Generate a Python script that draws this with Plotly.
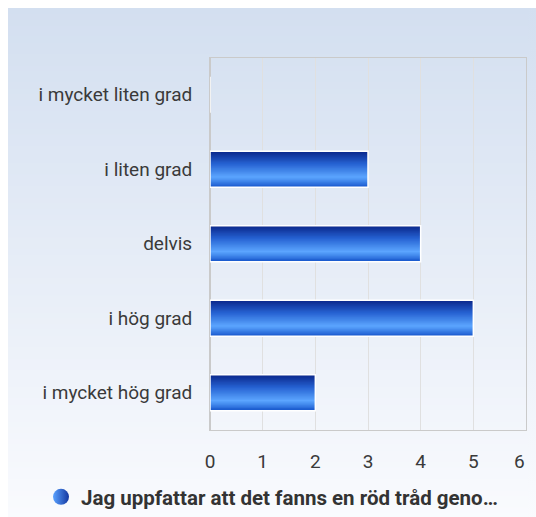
import plotly.graph_objects as go

categories = ["i mycket liten grad", "i liten grad", "delvis", "i hög grad", "i mycket hög grad"]
values = [0, 3, 4, 5, 2]
series_name = "Jag uppfattar att det fanns en röd tråd geno…"
x_ticks = [0, 1, 2, 3, 4, 5, 6]

W, H = 536, 517
OFF = 8  # page offset of the figure (body margin)
FONT = "Roboto, Liberation Sans, Arial, sans-serif"

def px(x):
    return (x - OFF) / W

def py(y):
    return 1 - (y - OFF) / H

def lerp(c1, c2, t):
    return tuple(round(a + (b - a) * t) for a, b in zip(c1, c2))

def grad(stops, t):
    for (t0, c0), (t1, c1) in zip(stops, stops[1:]):
        if t <= t1:
            return lerp(c0, c1, (t - t0) / (t1 - t0) if t1 > t0 else 0)
    return stops[-1][1]

bar_stops = [
    (0.0, (10, 38, 138)),
    (0.35, (38, 98, 210)),
    (0.72, (92, 166, 255)),
    (1.0, (24, 88, 205)),
]

fig = go.Figure()
N = 30
bw = 0.48
for i in range(N):
    t = (i + 0.5) / N
    c = grad(bar_stops, t)
    off = -bw / 2 + i * bw / N
    fig.add_trace(go.Bar(
        x=values, y=categories, orientation="h",
        width=bw / 2 - off, offset=off,
        marker=dict(color="rgb(%d,%d,%d)" % c, line=dict(width=0)),
        showlegend=False, hoverinfo="skip",
    ))
# white outline
fig.add_trace(go.Bar(
    x=values, y=categories, orientation="h",
    width=bw, offset=-bw / 2,
    marker=dict(color="rgba(0,0,0,0)", line=dict(color="white", width=1.5)),
    showlegend=False, hoverinfo="skip",
))
# legend entry
fig.add_trace(go.Scatter(
    x=[None], y=[None], mode="markers", name=series_name,
    marker=dict(symbol="circle", size=20, color="#5aa2ff",
                gradient=dict(type="horizontal", color="#1437a0"),
                line=dict(width=0)),
))

# background gradient stripes
shapes = []
M = 90
top_c = (211, 223, 240)
bot_c = (250, 251, 254)
for i in range(M):
    ya = 1 - i / M
    yb = 1 - (i + 1) / M
    c = lerp(top_c, bot_c, (i + 0.5) / M)
    shapes.append(dict(type="rect", xref="paper", yref="paper",
                       x0=0, x1=1, y0=yb - 0.002, y1=ya,
                       fillcolor="rgb(%d,%d,%d)" % c, line=dict(width=0),
                       layer="below"))

fig.update_layout(
    width=W, height=H,
    margin=dict(l=0, r=0, t=0, b=0),
    paper_bgcolor="white", plot_bgcolor="rgba(0,0,0,0)",
    barmode="overlay",
    shapes=shapes,
    font=dict(family=FONT, size=19, color="#3a3a3a"),
    xaxis=dict(domain=[px(210), px(526)], range=[0, 6], tickvals=x_ticks[:-1],
               showgrid=True, gridcolor="#e0e0e0", gridwidth=1,
               showline=True, linecolor="#cacaca", linewidth=1, mirror=True,
               zeroline=True, zerolinecolor="#cacaca", zerolinewidth=2,
               ticks="", ticklabelstandoff=14, automargin=False,
               fixedrange=True),
    yaxis=dict(domain=[py(430), py(57.5)], categoryorder="array",
               categoryarray=categories, autorange="reversed",
               showgrid=False, showline=True, linecolor="#cacaca", linewidth=1,
               mirror=True, ticks="", ticklabelstandoff=13, automargin=False,
               fixedrange=True),
    legend=dict(orientation="h", x=px(272), xanchor="center", y=py(497),
                yanchor="middle", bgcolor="rgba(0,0,0,0)",
                font=dict(family=FONT, size=20.5, color="#333333", weight="bold"),
                itemwidth=30),
    annotations=[dict(x=x_ticks[-1], xref="x", y=py(461), yref="paper",
                      text=str(x_ticks[-1]), showarrow=False, xshift=-7,
                      yanchor="middle", font=dict(family=FONT, size=19, color="#3a3a3a"))],
)

page_bg = ("linear-gradient(to right, #ffffff 8px, rgba(255,255,255,0) 8px), "
           "linear-gradient(to bottom, #ffffff 8px, rgb(211,223,240) 8px, "
           "rgb(250,251,254) 525px)")
fig.write_html(
    "out.html",
    post_script="document.documentElement.style.overflow='hidden';"
                "document.body.style.overflow='hidden';"
                "document.documentElement.style.background='%s';"
                "document.documentElement.style.minHeight='100%%';" % page_bg,
)
